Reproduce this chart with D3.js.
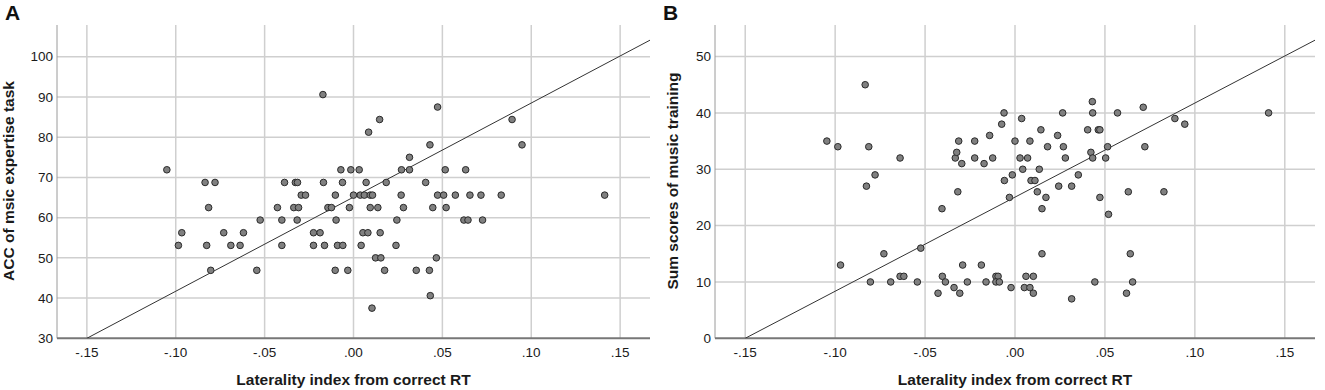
<!DOCTYPE html>
<html>
<head>
<meta charset="utf-8">
<script src="https://cdn.jsdelivr.net/npm/d3@7"></script>
<style>
  body { margin: 0; background: #fff; }
  svg { display: block; font-family: "Liberation Sans", Arial, sans-serif; }
</style>
</head>
<body>
<svg id="chart" width="1325" height="390"></svg>
<script>
// laterality index (x) and ACC of music expertise task (y), panel A
var latA = [-0.105, -0.0985, -0.0966, -0.0835, -0.0826, -0.0815, -0.0803, -0.0779, -0.073, -0.069,
  -0.0638, -0.0619, -0.0544, -0.0525, -0.0428, -0.0403, -0.0403, -0.0388, -0.0336, -0.0327,
  -0.0315, -0.0317, -0.0309, -0.0294, -0.027, -0.0225, -0.0225, -0.0188, -0.0172, -0.0169,
  -0.0163, -0.0144, -0.0124, -0.0102, -0.0098, -0.0103, -0.009, -0.0071, -0.0062, -0.006,
  -0.0032, -0.0023, -0.0015, 0.0, 0.0032, 0.0038, 0.0043, 0.0053, 0.0061, 0.0071,
  0.0081, 0.0085, 0.0094, 0.0094, 0.0104, 0.0107, 0.0124, 0.0137, 0.0147, 0.015,
  0.0154, 0.0175, 0.0184, 0.0239, 0.0244, 0.0268, 0.027, 0.0281, 0.0315, 0.0315,
  0.0353, 0.0406, 0.0427, 0.043, 0.0432, 0.0446, 0.0466, 0.0473, 0.0473, 0.0507,
  0.0516, 0.0521, 0.0573, 0.0621, 0.0631, 0.0644, 0.0655, 0.0717, 0.0726, 0.0831,
  0.0892, 0.0948, 0.1413];
var accA = [71.9, 53.1, 56.25, 68.75, 53.1, 62.5, 46.9, 68.75, 56.25, 53.1,
  53.1, 56.25, 46.9, 59.4, 62.5, 59.4, 53.1, 68.75, 62.5, 68.75,
  68.75, 59.4, 62.5, 65.6, 65.6, 56.25, 53.1, 56.25, 90.6, 68.75,
  53.1, 62.5, 62.5, 65.6, 59.4, 46.9, 53.1, 71.9, 68.75, 53.1,
  46.9, 62.5, 71.9, 65.6, 71.9, 65.6, 53.1, 56.25, 65.6, 68.75,
  56.25, 81.25, 62.5, 65.6, 37.5, 65.6, 50, 62.5, 84.4, 56.25,
  50, 46.9, 68.75, 53.1, 59.4, 65.6, 71.9, 62.5, 75, 71.9,
  46.9, 68.75, 46.9, 78.1, 40.6, 62.5, 50, 65.6, 87.5, 65.6,
  71.9, 62.5, 65.6, 59.4, 71.9, 59.4, 65.6, 65.6, 59.4, 65.6,
  84.4, 78.1, 65.6];

// laterality index (x) and sum scores of music training (y), panel B
var latB = [-0.1046, -0.0985, -0.097, -0.0833, -0.0826, -0.0813, -0.0804, -0.0778, -0.0729, -0.0691,
  -0.0639, -0.0639, -0.0618, -0.0543, -0.0524, -0.0428, -0.0406, -0.0404, -0.0387, -0.0339,
  -0.0332, -0.0324, -0.0318, -0.0313, -0.0307, -0.0296, -0.0291, -0.0265, -0.0224, -0.0224,
  -0.0187, -0.0172, -0.0161, -0.0141, -0.0124, -0.0106, -0.0094, -0.0106, -0.0087, -0.0074,
  -0.0061, -0.0059, -0.0031, -0.0022, -0.0015, 0.0, 0.0028, 0.0037, 0.0043, 0.0052,
  0.0061, 0.007, 0.0083, 0.0083, 0.0089, 0.0102, 0.0102, 0.0111, 0.0124, 0.0135,
  0.0144, 0.015, 0.015, 0.0172, 0.0181, 0.0237, 0.0243, 0.0265, 0.0269, 0.028,
  0.0315, 0.0315, 0.0352, 0.0404, 0.0422, 0.043, 0.0432, 0.0432, 0.0444, 0.0463,
  0.0472, 0.0472, 0.0504, 0.0515, 0.052, 0.057, 0.062, 0.063, 0.0641, 0.0654,
  0.0713, 0.0722, 0.0828, 0.0889, 0.0944, 0.141];
var trainB = [35, 34, 13, 45, 27, 34, 10, 29, 15, 10,
  32, 11, 11, 10, 16, 8, 23, 11, 10, 9,
  32, 33, 26, 35, 8, 31, 13, 10, 35, 32,
  13, 31, 10, 36, 32, 11, 11, 10, 10, 38,
  40, 28, 25, 9, 29, 35, 32, 39, 30, 9,
  11, 32, 35, 9, 28, 11, 8, 28, 26, 30,
  37, 23, 15, 25, 34, 36, 27, 40, 34, 32,
  27, 7, 29, 37, 33, 42, 40, 32, 10, 37,
  37, 25, 32, 34, 22, 40, 8, 26, 15, 10,
  41, 34, 26, 39, 38, 40];

var xTicks = [-0.15, -0.10, -0.05, 0.00, 0.05, 0.10, 0.15];
var xTickLabels = ["-.15", "-.10", "-.05", ".00", ".05", ".10", ".15"];
var yTicksA = [30, 40, 50, 60, 70, 80, 90, 100];
var yTicksB = [0, 10, 20, 30, 40, 50];

// fit lines (intercept, slope) as drawn
var fitA = [65.1, 234];
var fitB = [25.05, 167];

var svg = d3.select("#chart");

function panel(opts) {
  var g = svg.append("g");
  var x = d3.scaleLinear().domain([-0.1668, 0.1668]).range([opts.left, opts.right]);
  var y = d3.scaleLinear().domain(opts.yDomain).range([338.3, 25]);

  // gridlines
  g.selectAll(".vg").data(xTicks).enter().append("line")
    .attr("x1", d => x(d)).attr("x2", d => x(d))
    .attr("y1", 25).attr("y2", 338.3)
    .attr("stroke", "#cfcfcf").attr("stroke-width", 1.5);
  g.selectAll(".hg").data(opts.yTicks.filter(d => d !== opts.yDomain[0])).enter().append("line")
    .attr("x1", opts.left).attr("x2", opts.right)
    .attr("y1", d => y(d)).attr("y2", d => y(d))
    .attr("stroke", "#cfcfcf").attr("stroke-width", 1.5);

  // axis lines
  g.append("line").attr("x1", opts.left).attr("x2", opts.left)
    .attr("y1", 25).attr("y2", 338.3).attr("stroke", "#9a9a9a").attr("stroke-width", 1);
  g.append("line").attr("x1", opts.left).attr("x2", opts.right)
    .attr("y1", 338.3).attr("y2", 338.3).attr("stroke", "#777").attr("stroke-width", 2);

  // tick labels
  g.selectAll(".xt").data(xTicks).enter().append("text")
    .attr("x", d => x(d)).attr("y", 357)
    .attr("text-anchor", "middle").attr("font-size", 13.5).attr("fill", "#1a1a1a")
    .text((d, i) => xTickLabels[i]);
  g.selectAll(".yt").data(opts.yTicks).enter().append("text")
    .attr("x", opts.left - 4).attr("y", d => y(d) + 4.7)
    .attr("text-anchor", "end").attr("font-size", 13.5).attr("fill", "#1a1a1a")
    .text(d => d);

  // axis titles
  g.append("text").attr("x", (opts.left + opts.right) / 2).attr("y", 385)
    .attr("text-anchor", "middle").attr("font-size", 15.5).attr("font-weight", "bold").attr("fill", "#1a1a1a")
    .text("Laterality index from correct RT");
  g.append("text")
    .attr("transform", "translate(" + (opts.left - opts.titleGap) + "," + 181 + ") rotate(-90)")
    .attr("text-anchor", "middle").attr("font-size", 15.5).attr("font-weight", "bold").attr("fill", "#1a1a1a")
    .text(opts.yTitle);
  g.append("text").attr("x", opts.left - 52).attr("y", 20)
    .attr("font-size", 21).attr("font-weight", "bold").attr("fill", "#111")
    .text(opts.label);

  // fit line, clipped to the plot area
  var clipId = "clip" + opts.label;
  svg.append("clipPath").attr("id", clipId).append("rect")
    .attr("x", opts.left).attr("y", 25).attr("width", opts.right - opts.left).attr("height", 313.3);
  var x0 = (opts.yDomain[0] - opts.fit[0]) / opts.fit[1];
  var x1 = 0.1668;
  g.append("line").attr("clip-path", "url(#" + clipId + ")")
    .attr("x1", x(x0)).attr("y1", y(opts.fit[0] + opts.fit[1] * x0))
    .attr("x2", x(x1)).attr("y2", y(opts.fit[0] + opts.fit[1] * x1))
    .attr("stroke", "#333").attr("stroke-width", 1);

  // points
  g.selectAll(".pt").data(opts.xs).enter().append("circle")
    .attr("cx", d => x(d)).attr("cy", (d, i) => y(opts.ys[i]))
    .attr("r", 3.3)
    .attr("fill", "#808080").attr("stroke", "#2a2a2a").attr("stroke-width", 1);
}

panel({ left: 57, right: 650, yDomain: [30, 107.9], yTicks: yTicksA, xs: latA, ys: accA,
  fit: fitA, yTitle: "ACC of msic expertise task", label: "A", titleGap: 43 });
panel({ left: 715, right: 1315, yDomain: [0, 55.6], yTicks: yTicksB, xs: latB, ys: trainB,
  fit: fitB, yTitle: "Sum scores of music training", label: "B", titleGap: 37 });
</script>
</body>
</html>
